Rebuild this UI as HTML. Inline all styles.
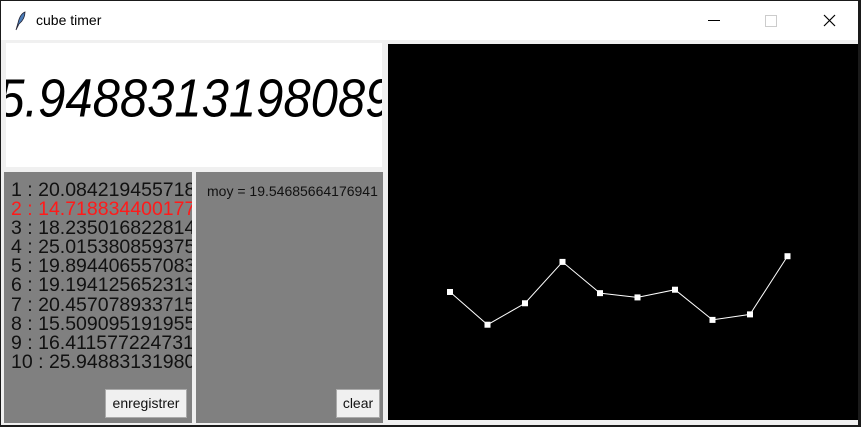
<!DOCTYPE html>
<html><head><meta charset="utf-8"><style>
body{margin:0;width:861px;height:427px;overflow:hidden;background:#1a1a1a;font-family:"Liberation Sans",sans-serif;position:relative}
.abs{position:absolute}
</style></head><body>
<div class="abs" style="left:1px;top:1px;width:857px;height:424px;background:#f0f0f0">
  <div class="abs" style="left:0;top:0;width:857px;height:39px;background:#fff">
    <svg class="abs" style="left:12px;top:10px" width="14" height="20" viewBox="0 0 14 20"><path d="M3 19 L5 12 Q7 3 12 1 Q12 8 6 13 Z" fill="#4a7cb8" stroke="#223" stroke-width="0.8"/></svg>
    <div class="abs" style="left:35px;top:11px;font-size:14px;color:#000">cube timer</div>
    <div class="abs" style="left:707px;top:19px;width:12px;height:1px;background:#000"></div>
    <div class="abs" style="left:764px;top:14px;width:10px;height:10px;border:1px solid #ccc"></div>
    <svg class="abs" style="left:822px;top:13px" width="13" height="13"><path d="M1 1L12 12M12 1L1 12" stroke="#000" stroke-width="1.2"/></svg>
  </div>
  <div class="abs" style="left:5px;top:42px;width:376px;height:124px;background:#fff;overflow:hidden">
    <span class="abs" style="left:-36px;top:28px;font-size:49px;font-style:italic;white-space:nowrap;color:#000;transform:scaleY(1.1);transform-origin:0 50%">25.948831319808926</span>
  </div>
  <div class="abs" style="left:3px;top:171px;width:188px;height:251px;background:#808080;overflow:hidden">
    <div class="abs" style="left:7px;top:9px;font-size:19.5px;line-height:19.1px;white-space:nowrap;color:#111">
      <div>1 : 20.0842194557189</div>
      <div style="color:#ff1a1a">2 : 14.7188344001770</div>
      <div>3 : 18.2350168228149</div>
      <div>4 : 25.0153808593750</div>
      <div>5 : 19.8944065570831</div>
      <div>6 : 19.1941256523132</div>
      <div>7 : 20.4570789337158</div>
      <div>8 : 15.5090951919555</div>
      <div>9 : 16.4115772247314</div>
      <div>10 : 25.9488313198089</div>
    </div>
    <div class="abs" style="left:101px;top:217px;width:82px;height:29px;background:#f0f0f0;border:1px solid #aaa;box-sizing:border-box;font-size:14px;line-height:27px;text-align:center;color:#111">enregistrer</div>
  </div>
  <div class="abs" style="left:195px;top:171px;width:187px;height:251px;background:#808080">
    <div class="abs" style="left:11px;top:11px;font-size:14px;color:#111;white-space:nowrap">moy = 19.54685664176941</div>
    <div class="abs" style="left:140px;top:217px;width:44px;height:29px;background:#f0f0f0;border:1px solid #aaa;box-sizing:border-box;font-size:14px;line-height:27px;text-align:center;color:#111">clear</div>
  </div>
  <svg class="abs" id="chart" style="left:387px;top:43px" width="470" height="376"></svg>
</div>
<script>
const labels = [1,2,3,4,5,6,7,8,9,10];
const times = [20.084,14.719,18.235,25.015,19.894,19.194,20.457,15.509,16.412,25.949];
const svg = document.getElementById('chart');
const NS = 'http://www.w3.org/2000/svg';
function xScale(i){ return 62 + i*37.5; }
function yScale(v){ return 370.5 - v*6.1; }
const bg = document.createElementNS(NS,'rect');


bg.setAttribute('width',470);bg.setAttribute('height',376);bg.setAttribute('fill','#000');
svg.appendChild(bg);
const pl = document.createElementNS(NS,'polyline');


pl.setAttribute('points', times.map((v,i)=>xScale(i)+','+yScale(v)).join(' '));
pl.setAttribute('fill','none');pl.setAttribute('stroke','#fff');pl.setAttribute('stroke-width','1');
svg.appendChild(pl);
times.forEach((v,i)=>{
  const r = document.createElementNS(NS,'rect');
  
  
  r.setAttribute('x', xScale(i)-3); r.setAttribute('y', yScale(v)-3);
  r.setAttribute('width',6);r.setAttribute('height',6);r.setAttribute('fill','#fff');
  svg.appendChild(r);
});
</script>
</body></html>
